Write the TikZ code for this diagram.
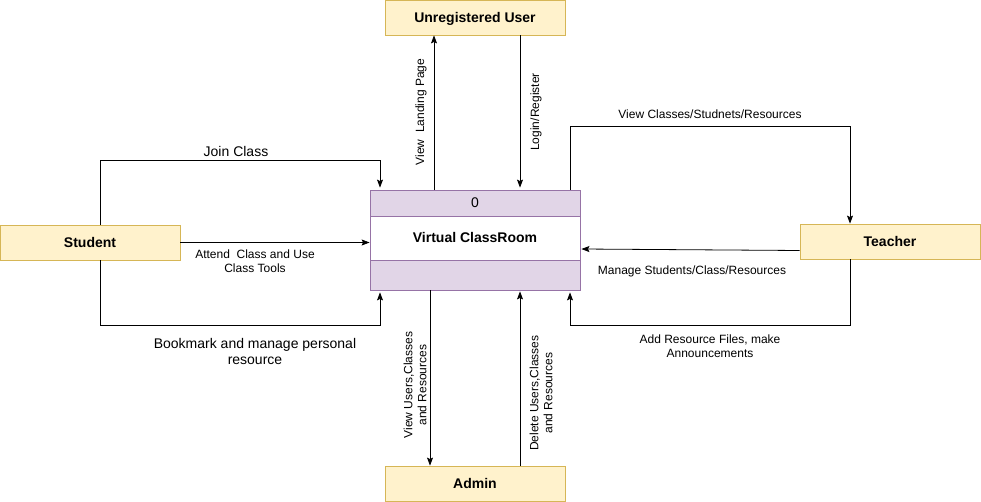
\documentclass[tikz,border=0pt]{standalone}
\usepackage{fontspec}
\setmainfont{Liberation Sans}
\usetikzlibrary{arrows.meta,calc}
\definecolor{entf}{HTML}{FFF2CC}
\definecolor{entb}{HTML}{D6B656}
\definecolor{procf}{HTML}{E1D5E7}
\definecolor{procb}{HTML}{9673A6}
\begin{document}
\begin{tikzpicture}[x=1pt,y=-1pt,
  ent/.style={draw=entb, fill=entf, line width=0.8pt, minimum width=180pt, minimum height=35pt, font=\bfseries\fontsize{14}{16}\selectfont, inner sep=0pt, text height=10pt, text depth=0pt},
  procband/.style={draw=procb, fill=procf, line width=0.8pt, minimum width=210pt, inner sep=0pt, font=\fontsize{14}{16}\selectfont, text height=10pt, text depth=0pt},
  flow/.style={draw=black, line width=0.8pt, -{Stealth[length=8pt,width=6pt,inset=1.5pt]}},
  lab/.style={font=\fontsize{12}{14}\selectfont, align=center, inner sep=0pt},
  biglab/.style={font=\fontsize{14}{16}\selectfont, align=center, inner sep=0pt}]
\useasboundingbox (0,0) rectangle (981,502);

% entities
\node[ent] (uu) at (475,17.5) {Unregistered User};
\node[ent] (st) at (90,242.5) {Student};
\node[ent] (te) at (890,241.5) {Teacher};
\node[ent] (ad) at (475,483.5) {Admin};

% process
\node[procband, minimum height=26pt] (p0) at (475,203) {0};
\node[procband, fill=white, minimum height=44pt, font=\bfseries\fontsize{14}{16}\selectfont] (pm) at (475,238) {Virtual ClassRoom};
\node[procband, minimum height=30pt] (pb) at (475,275) {};

% x positions
\coordinate (x434) at (434,0);
\coordinate (x520) at (520,0);
\coordinate (x380) at (380,0);
\coordinate (x570) at (570,0);
\coordinate (x430) at (430,0);
\coordinate (x100) at (100,0);
\coordinate (x850) at (850,0);
\coordinate (yj) at (0,160);
\coordinate (yb) at (0,325);
\coordinate (yv) at (0,126);

% unregistered user
\draw[flow] (x434 |- p0.north) -- (x434 |- uu.south);
\draw[flow] (x520 |- uu.south) -- ($(x520 |- p0.north)+(0,-2)$);
\node[lab, rotate=90] (l1) at (421,112) {View\ \ Landing Page};
\node[lab, rotate=90] (l2) at (536,112) {Login/Register};

% student
\draw[flow] (x100 |- st.north) -- (x100 |- yj) -- (x380 |- yj) -- ($(x380 |- p0.north)+(0,-2)$);
\node[biglab] (l3) at (236,151) {Join Class};
\draw[flow] (st.east) -- (st.east -| pm.west);
\node[lab] (l4) at (255,261) {Attend\ \ Class and Use\\Class Tools};
\draw[flow] (x100 |- st.south) -- (x100 |- yb) -- (x380 |- yb) -- ($(x380 |- pb.south)+(0,2)$);
\node[biglab] (l5) at (255,351) {Bookmark and manage personal\\resource};

% teacher
\draw[flow] (x570 |- p0.north) -- (x570 |- yv) -- (x850 |- yv) -- (x850 |- te.north);
\node[lab] (l6) at (710,114) {View Classes/Studnets/Resources};
\draw[flow] ($(te.west)+(0,9)$) -- ($(pm.east)+(1,11)$);
\node[lab] (l7) at (692,271) {Manage Students/Class/Resources};
\draw[flow] (x850 |- te.south) -- (x850 |- yb) -- (x570 |- yb) -- ($(x570 |- pb.south)+(0,2)$);
\node[lab] (l8) at (710,346) {Add Resource Files, make\\Announcements};

% admin
\draw[flow] (x430 |- pb.south) -- (x430 |- ad.north);
\draw[flow] (x520 |- ad.north) -- ($(x520 |- pb.south)+(0,1)$);
\node[lab, rotate=90] (l9) at (415,385) {View Users,Classes\\and Resources};
\node[lab, rotate=90] (l10) at (541,393) {Delete Users,Classes\\and Resources};
\end{tikzpicture}
\end{document}
